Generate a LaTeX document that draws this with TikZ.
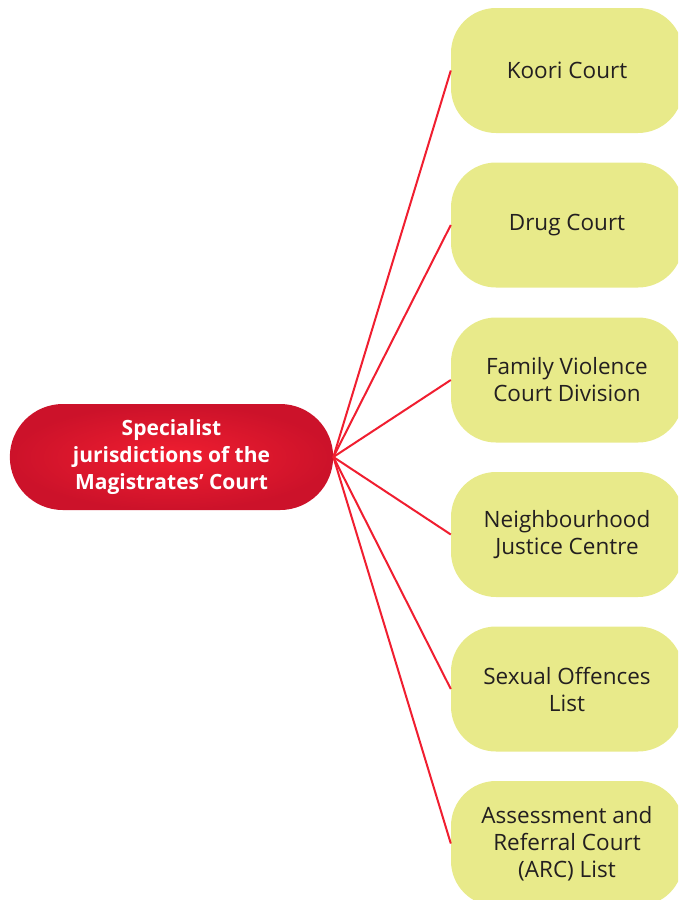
\documentclass[tikz,border=0pt]{standalone}
\usepackage{fontspec}
\setmainfont{Open Sans}
\usetikzlibrary{shapes.misc}
\definecolor{courtred}{RGB}{240,30,48}
\definecolor{courtdark}{RGB}{204,18,42}
\definecolor{listfill}{RGB}{232,234,138}
\definecolor{listtext}{RGB}{35,31,32}

\begin{document}
\begin{tikzpicture}[x=1pt,y=-1pt,
 hub/.style={rounded rectangle, minimum width=330pt, minimum height=106pt, inner color=courtred, outer color=courtdark, text=white, font=\fontsize{21}{27}\selectfont\bfseries, align=center},
 court/.style={rectangle, rounded corners=45pt, fill=listfill, minimum width=232pt, minimum height=125pt, text=listtext, font=\fontsize{22.5}{27}\selectfont, align=center},
 link/.style={line width=2pt, draw=courtred}]
\useasboundingbox (0,0) rectangle (678,900);
\clip (0,0) rectangle (678,900);

\node[hub] (hub) at (171.5,457) {Specialist\\jurisdictions of the\\Magistrates’ Court};

\node[court] (koori) at (567,70.5) {Koori Court};
\node[court] (drug) at (567,225) {Drug Court};
\node[court] (family) at (567,380) {Family Violence\\Court Division};
\node[court] (njc) at (567,534.5) {Neighbourhood\\Justice Centre};
\node[court] (sol) at (567,689) {Sexual Offences\\List};
\node[court] (arc) at (567,843.5) {Assessment and\\Referral Court\\(ARC) List};

% links out of the hub
\draw[link] (hub.east) -- (koori.west);
\draw[link] (hub.east) -- (drug.west);
\draw[link] (hub.east) -- (family.west);
\draw[link] (hub.east) -- (njc.west);
\draw[link] (hub.east) -- (sol.west);
\draw[link] (hub.east) -- (arc.west);

\end{tikzpicture}
\end{document}
